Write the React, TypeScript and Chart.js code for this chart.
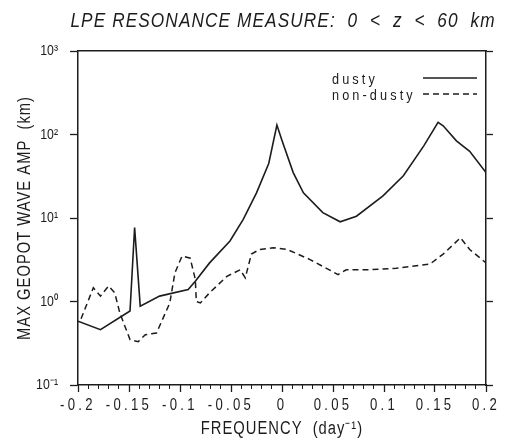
import React, { useEffect, useRef } from "react";
import { Chart, registerables } from "chart.js";

Chart.register(...registerables);

const TITLE = "LPE RESONANCE MEASURE:  0  <  z  <  60  km";
const X_TITLE = "FREQUENCY  (day⁻¹)";
const Y_TITLE = "MAX GEOPOT WAVE AMP  (km)";
const SERIES_LABELS = ["dusty", "non-dusty"];

const X_TICK_VALUES = [-0.2, -0.15, -0.1, -0.05, 0, 0.05, 0.1, 0.15, 0.2];
const X_TICK_LABELS = ["-0.2", "-0.15", "-0.1", "-0.05", "0", "0.05", "0.1", "0.15", "0.2"];
const Y_TICK_VALUES = [0.1, 1, 10, 100, 1000];
const Y_TICK_LABELS = ["10⁻¹", "10⁰", "10¹", "10²", "10³"];

const DUSTY_FREQ = [-0.2, -0.178, -0.149, -0.1445, -0.139, -0.12, -0.092, -0.085, -0.071, -0.051, -0.038, -0.025, -0.013, -0.005, 0.0, 0.011, 0.021, 0.04, 0.057, 0.073, 0.099, 0.119, 0.139, 0.153, 0.158, 0.171, 0.184, 0.2];
const DUSTY_AMP = [0.58, 0.46, 0.77, 7.7, 0.88, 1.16, 1.39, 1.75, 2.9, 5.3, 9.6, 20, 45, 130, 85, 35, 20, 11.6, 9.0, 10.5, 18.4, 32, 73, 140, 127, 84, 63, 35];

const NONDUSTY_FREQ = [-0.197, -0.185, -0.178, -0.17, -0.164, -0.159, -0.149, -0.141, -0.134, -0.123, -0.11, -0.105, -0.098, -0.09, -0.085, -0.084, -0.08, -0.071, -0.054, -0.041, -0.036, -0.03, -0.022, -0.0085, 0.005, 0.027, 0.055, 0.063, 0.083, 0.112, 0.145, 0.158, 0.175, 0.184, 0.2];
const NONDUSTY_AMP = [0.62, 1.46, 1.16, 1.53, 1.27, 0.73, 0.35, 0.33, 0.4, 0.42, 0.96, 2.2, 3.5, 3.3, 1.84, 1.0, 0.96, 1.27, 2.0, 2.4, 1.92, 3.7, 4.2, 4.4, 4.2, 3.2, 2.1, 2.4, 2.4, 2.5, 2.8, 3.7, 5.8, 4.2, 2.9];

const FAM = "'Liberation Sans', Arial, sans-serif";
const INK = "#1c1c1c";
const DASH = [6, 4];
const NARROW = 0.82; // horizontal squeeze to mimic a narrow sans

// letter spacing (final px) per font size
const SPACING: Record<number, number> = { 21: 1.1, 16: 3.3, 15: 0, 18: 1, 15.5: 3.1 };

const overlayPlugin = {
  id: "overlay",
  afterDraw(chart: any) {
    const { ctx, chartArea: ca } = chart;
    ctx.save();
    ctx.fillStyle = INK;
    ctx.font = `italic 21px ${FAM}`;
    ctx.textAlign = "center";
    ctx.textBaseline = "alphabetic";
    ctx.fillText(TITLE, (ca.left + ca.right) / 2 + 1, 27);

    // legend: label text, then line sample to its right
    ctx.font = `15.5px ${FAM}`;
    ctx.textAlign = "left";
    chart.data.datasets.forEach((ds: any, i: number) => {
      const base = ca.top + 33 + i * 16;
      ctx.fillStyle = INK;
      ctx.fillText(ds.label, ca.right - 154, base);
      ctx.beginPath();
      ctx.strokeStyle = INK;
      ctx.lineWidth = 1.5;
      ctx.setLineDash(ds.borderDash || []);
      ctx.moveTo(ca.right - 63, base - 6);
      ctx.lineTo(ca.right - 9, base - 6);
      ctx.stroke();
    });
    ctx.restore();
  },
};

export default function App() {
  const ref = useRef<HTMLCanvasElement | null>(null);

  useEffect(() => {
    document.body.style.margin = "0";
    const canvas = ref.current!;
    const c2d = canvas.getContext("2d")! as any;
    const origFill = c2d.fillText.bind(c2d);
    const origMeasure = c2d.measureText.bind(c2d);
    c2d.fillText = function (text: string, x: number, y: number, _maxWidth?: number) {
      const m = /(\d+(?:\.\d+)?)px/.exec(c2d.font);
      const size = m ? parseFloat(m[1]) : 0;
      c2d.save();
      c2d.translate(x, y);
      c2d.scale(NARROW, 1);
      c2d.letterSpacing = (SPACING[size] ?? 0) / NARROW + "px";
      origFill(text, 0, 0);
      c2d.restore();
    };
    c2d.measureText = function (text: string) {
      const r = origMeasure(text);
      return { width: r.width * NARROW, actualBoundingBoxAscent: r.actualBoundingBoxAscent, actualBoundingBoxDescent: r.actualBoundingBoxDescent };
    };

    const decadeTicks = (s: any) => {
      s.ticks = Y_TICK_VALUES.map((v) => ({ value: v }));
    };

    const chart = new Chart(canvas, {
      type: "line",
      data: {
        datasets: [
          {
            label: SERIES_LABELS[0],
            data: DUSTY_FREQ.map((f, i) => ({ x: f, y: DUSTY_AMP[i] })),
            borderColor: INK,
            borderWidth: 1.6,
            pointRadius: 0,
            tension: 0,
            fill: false,
            xAxisID: "x",
            yAxisID: "y",
          },
          {
            label: SERIES_LABELS[1],
            data: NONDUSTY_FREQ.map((f, i) => ({ x: f, y: NONDUSTY_AMP[i] })),
            borderColor: INK,
            borderWidth: 1.5,
            borderDash: DASH,
            pointRadius: 0,
            tension: 0,
            fill: false,
            xAxisID: "x",
            yAxisID: "y",
          },
        ],
      },
      options: {
        responsive: false,
        animation: false,
        devicePixelRatio: 1,
        layout: { padding: { top: 51, left: 0, right: 0, bottom: 0 } },
        plugins: {
          legend: { display: false },
          title: { display: false },
          tooltip: { enabled: false },
        },
        scales: {
          xMinor: {
            type: "linear",
            position: "bottom",
            weight: 0,
            min: -0.2,
            max: 0.2,
            ticks: { display: false, stepSize: 0.01 },
            grid: { drawOnChartArea: false, tickLength: 4, tickColor: INK, tickWidth: 1 },
            border: { display: false },
            afterFit: (s: any) => {
              s.height = 0;
            },
          },
          x: {
            type: "linear",
            position: "bottom",
            weight: 1,
            min: -0.2,
            max: 0.2,
            afterBuildTicks: (s: any) => {
              s.ticks = X_TICK_VALUES.map((v) => ({ value: v }));
            },
            ticks: {
              autoSkip: false,
              maxRotation: 0,
              padding: 4,
              color: INK,
              font: { family: FAM, size: 16 },
              callback: (_v: any, i: number) => X_TICK_LABELS[i],
            },
            grid: { drawOnChartArea: false, tickLength: 7, tickColor: INK, tickWidth: 1.3 },
            border: { display: true, color: INK, width: 1.5 },
            title: {
              display: true,
              text: X_TITLE,
              color: INK,
              font: { family: FAM, size: 18 },
              padding: { top: 0, bottom: 3 },
            },
            afterFit: (s: any) => {
              s.height = 58;
            },
          },
          xTop: {
            type: "linear",
            position: "top",
            min: -0.2,
            max: 0.2,
            ticks: { display: false },
            grid: { display: false },
            border: { display: true, color: INK, width: 1.5 },
            afterFit: (s: any) => {
              s.height = 0;
            },
          },
          y: {
            type: "logarithmic",
            position: "left",
            min: 0.1,
            max: 1000,
            afterBuildTicks: decadeTicks,
            ticks: {
              autoSkip: false,
              padding: 12,
              color: INK,
              font: { family: FAM, size: 15 },
              callback: (_v: any, i: number) => Y_TICK_LABELS[i],
            },
            grid: { drawOnChartArea: false, tickLength: 8, tickColor: INK, tickWidth: 1.3 },
            border: { display: true, color: INK, width: 1.5 },
            title: {
              display: true,
              text: Y_TITLE,
              color: INK,
              font: { family: FAM, size: 18 },
              padding: { top: 14, bottom: 0 },
            },
            afterFit: (s: any) => {
              s.width = 78;
            },
          },
          yRight: {
            type: "logarithmic",
            position: "right",
            min: 0.1,
            max: 1000,
            afterBuildTicks: decadeTicks,
            ticks: { display: false },
            grid: { drawOnChartArea: false, tickLength: 7, tickColor: INK, tickWidth: 1.3 },
            border: { display: true, color: INK, width: 1.5 },
            afterFit: (s: any) => {
              s.width = 20;
            },
          },
        },
      } as any,
      plugins: [overlayPlugin],
    });

    return () => {
      chart.destroy();
    };
  }, []);

  return (
    <div style={{ width: 506, height: 443, background: "#fff" }}>
      <canvas ref={ref} width={506} height={443} style={{ display: "block" }} />
    </div>
  );
}
